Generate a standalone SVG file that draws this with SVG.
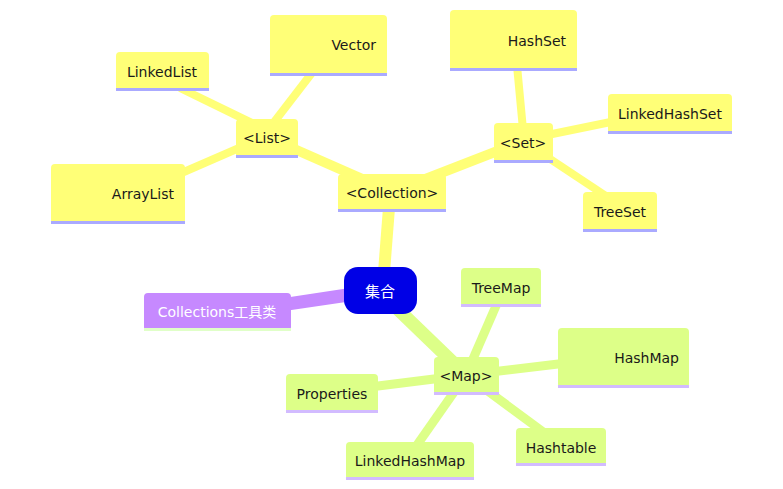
<svg xmlns="http://www.w3.org/2000/svg" width="783" height="489" viewBox="0 0 783 489">
<style>
.y{fill:#ffff77}
.yl{fill:#aaaaff}
.g{fill:#ddff88}
.gl{fill:#d2bbff}
.t{font-family:"DejaVu Sans","Noto Sans CJK SC",sans-serif;font-size:14px;fill:#1a1a1a}
.c{text-anchor:middle}
.r{text-anchor:end}
.cy{stroke:#ffff77;stroke-linecap:butt;fill:none}
.cg{stroke:#ddff88;stroke-linecap:butt;fill:none}
</style>
<rect width="783" height="489" fill="#ffffff"/>
<g id="connectors">
  <line class="cy" x1="383" y1="285" x2="390" y2="195" stroke-width="12"/>
  <line class="cy" x1="392" y1="192" x2="267" y2="137" stroke-width="10"/>
  <line class="cy" x1="392" y1="192" x2="523" y2="141" stroke-width="10"/>
  <line class="cy" x1="180" y1="88" x2="262" y2="128" stroke-width="8"/>
  <line class="cy" x1="318" y1="65" x2="268" y2="130" stroke-width="8"/>
  <line class="cy" x1="170" y1="178" x2="262" y2="138" stroke-width="8"/>
  <line class="cy" x1="516" y1="55" x2="524" y2="140" stroke-width="8"/>
  <line class="cy" x1="523" y1="140" x2="640" y2="116" stroke-width="8"/>
  <line class="cy" x1="523" y1="141" x2="612" y2="200" stroke-width="8"/>
  <line class="cg" x1="380" y1="292" x2="466" y2="375" stroke-width="13"/>
  <line class="cg" x1="502" y1="292" x2="466" y2="375" stroke-width="9"/>
  <line class="cg" x1="466" y1="375" x2="600" y2="359" stroke-width="9"/>
  <line class="cg" x1="330" y1="392" x2="466" y2="375" stroke-width="9"/>
  <line class="cg" x1="466" y1="375" x2="410" y2="455" stroke-width="9"/>
  <line class="cg" x1="466" y1="375" x2="565" y2="448" stroke-width="9"/>
  <polygon points="250,303 376,284 380,297 250,316" fill="#c689ff"/>
</g>
<g id="n-collections">
  <rect x="144" y="293" width="147" height="38" rx="4" fill="#c689ff"/>
  <rect x="144" y="328" width="147" height="3" fill="#e0ffc8"/>
  <text class="t c" x="217" y="317" fill="#ffffff" style="fill:#ffffff">Collections工具类</text>
</g>
<g id="n-root">
  <rect x="344" y="267" width="73" height="47" rx="14" fill="#0000e6"/>
  <text class="t c" x="380" y="297" style="fill:#ffffff;font-size:15px">集合</text>
</g>
<g id="n-collection">
  <rect class="y" x="338" y="174" width="108" height="38" rx="4"/>
  <rect class="yl" x="338" y="209" width="108" height="3"/>
  <text class="t c" x="392" y="198">&lt;Collection&gt;</text>
</g>
<g id="n-list">
  <rect class="y" x="236" y="119" width="62" height="39" rx="4"/>
  <rect class="yl" x="236" y="155" width="62" height="3"/>
  <text class="t c" x="267" y="143">&lt;List&gt;</text>
</g>
<g id="n-linkedlist">
  <rect class="y" x="116" y="52" width="93" height="39" rx="4"/>
  <rect class="yl" x="116" y="88" width="93" height="3"/>
  <text class="t c" x="162" y="77">LinkedList</text>
</g>
<g id="n-vector">
  <rect class="y" x="270" y="15" width="117" height="61" rx="4"/>
  <rect class="yl" x="270" y="73" width="117" height="3"/>
  <text class="t r" x="376" y="50">Vector</text>
</g>
<g id="n-arraylist">
  <rect class="y" x="51" y="164" width="134" height="60" rx="4"/>
  <rect class="yl" x="51" y="221" width="134" height="3"/>
  <text class="t r" x="174" y="199">ArrayList</text>
</g>
<g id="n-set">
  <rect class="y" x="494" y="123" width="59" height="40" rx="4"/>
  <rect class="yl" x="494" y="160" width="59" height="3"/>
  <text class="t c" x="523" y="148">&lt;Set&gt;</text>
</g>
<g id="n-hashset">
  <rect class="y" x="450" y="10" width="127" height="61" rx="4"/>
  <rect class="yl" x="450" y="68" width="127" height="3"/>
  <text class="t r" x="566" y="46">HashSet</text>
</g>
<g id="n-linkedhashset">
  <rect class="y" x="608" y="94" width="124" height="40" rx="4"/>
  <rect class="yl" x="608" y="131" width="124" height="3"/>
  <text class="t c" x="670" y="119">LinkedHashSet</text>
</g>
<g id="n-treeset">
  <rect class="y" x="583" y="192" width="74" height="40" rx="4"/>
  <rect class="yl" x="583" y="229" width="74" height="3"/>
  <text class="t c" x="620" y="217">TreeSet</text>
</g>
<g id="n-map">
  <rect class="g" x="434" y="357" width="65" height="38" rx="4"/>
  <rect class="gl" x="434" y="392" width="65" height="3"/>
  <text class="t c" x="466" y="381">&lt;Map&gt;</text>
</g>
<g id="n-treemap">
  <rect class="g" x="461" y="268" width="80" height="39" rx="4"/>
  <rect class="gl" x="461" y="304" width="80" height="3"/>
  <text class="t c" x="501" y="293">TreeMap</text>
</g>
<g id="n-hashmap">
  <rect class="g" x="558" y="328" width="131" height="60" rx="4"/>
  <rect class="gl" x="558" y="385" width="131" height="3"/>
  <text class="t r" x="679" y="363">HashMap</text>
</g>
<g id="n-properties">
  <rect class="g" x="286" y="374" width="92" height="39" rx="4"/>
  <rect class="gl" x="286" y="410" width="92" height="3"/>
  <text class="t c" x="332" y="399">Properties</text>
</g>
<g id="n-linkedhashmap">
  <rect class="g" x="346" y="442" width="128" height="38" rx="4"/>
  <rect class="gl" x="346" y="477" width="128" height="3"/>
  <text class="t c" x="410" y="466">LinkedHashMap</text>
</g>
<g id="n-hashtable">
  <rect class="g" x="516" y="428" width="90" height="38" rx="4"/>
  <rect class="gl" x="516" y="463" width="90" height="3"/>
  <text class="t c" x="561" y="453">Hashtable</text>
</g>
</svg>
